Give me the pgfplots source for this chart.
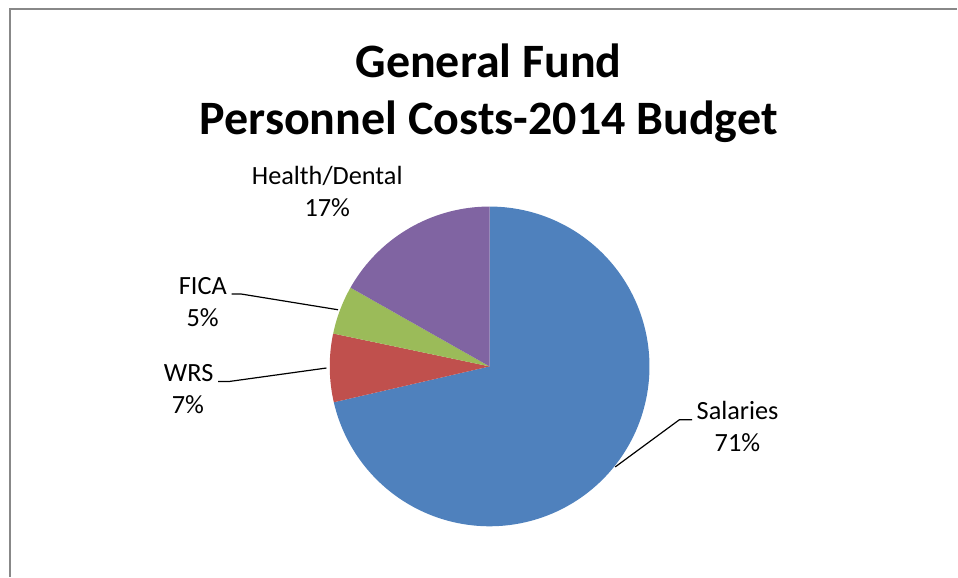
\documentclass[border=0pt]{standalone}
\usepackage{fontspec}
\setmainfont{Carlito}
\usepackage{pgfplots}
\usepackage{pgfplotstable}
\pgfplotsset{compat=1.18}
\definecolor{cSal}{HTML}{4F81BD}
\definecolor{cWRS}{HTML}{C0504D}
\definecolor{cFICA}{HTML}{9BBB59}
\definecolor{cHealth}{HTML}{8064A2}
\definecolor{frame}{HTML}{888888}
\pgfplotstableread{
label value
Salaries 71.4
WRS 6.9
FICA 4.9
Health 16.8
}\piedata
\pgfplotstablegetelem{0}{value}\of\piedata \let\vA\pgfplotsretval
\pgfplotstablegetelem{1}{value}\of\piedata \let\vB\pgfplotsretval
\pgfplotstablegetelem{2}{value}\of\piedata \let\vC\pgfplotsretval
\pgfplotstablegetelem{3}{value}\of\piedata \let\vD\pgfplotsretval
\pgfmathsetmacro{\aA}{90}
\pgfmathsetmacro{\aB}{\aA-3.6*\vA}
\pgfmathsetmacro{\aC}{\aB-3.6*\vB}
\pgfmathsetmacro{\aD}{\aC-3.6*\vC}
\pgfmathsetmacro{\aE}{\aD-3.6*\vD}
\newcommand\cx{490}
\newcommand\cy{366.7}
\newcommand\rr{160}
\newcommand\lbl{\fontsize{26.3}{31.6}\selectfont}
\begin{document}
\begin{tikzpicture}
\begin{axis}[
  scale only axis, width=958pt, height=577pt,
  xmin=0, xmax=958, ymin=0, ymax=577, y dir=reverse,
  hide axis, clip=false]
\addplot[draw=none, fill=cSal, domain=\aB:\aA, samples=150, variable=\t]
  ({\cx+\rr*cos(t)},{\cy-\rr*sin(t)}) -- (axis cs:\cx,\cy) -- cycle;
\addplot[draw=none, fill=cWRS, domain=\aC:\aB, samples=30, variable=\t]
  ({\cx+\rr*cos(t)},{\cy-\rr*sin(t)}) -- (axis cs:\cx,\cy) -- cycle;
\addplot[draw=none, fill=cFICA, domain=\aD:\aC, samples=30, variable=\t]
  ({\cx+\rr*cos(t)},{\cy-\rr*sin(t)}) -- (axis cs:\cx,\cy) -- cycle;
\addplot[draw=none, fill=cHealth, domain=\aE:\aD, samples=60, variable=\t]
  ({\cx+\rr*cos(t)},{\cy-\rr*sin(t)}) -- (axis cs:\cx,\cy) -- cycle;
% leader lines
\addplot[black, line width=1.2pt, mark=none] coordinates {(231.7,294.3) (241.7,294.3) (338.3,310)};
\addplot[black, line width=1.2pt, mark=none] coordinates {(218.3,381.7) (230,381.7) (326.7,368.3)};
\addplot[black, line width=1.2pt, mark=none] coordinates {(692.7,420) (680,420) (615.7,467.3)};
% labels
\node[anchor=base, inner sep=0pt] at (axis cs:327.5,185) {\lbl Health/Dental};
\node[anchor=base, inner sep=0pt] at (axis cs:327.5,216.7) {\lbl 17\%};
\node[anchor=base, inner sep=0pt] at (axis cs:203,294.3) {\lbl FICA};
\node[anchor=base, inner sep=0pt] at (axis cs:202.8,326.7) {\lbl 5\%};
\node[anchor=base, inner sep=0pt] at (axis cs:188.8,381.7) {\lbl WRS};
\node[anchor=base, inner sep=0pt] at (axis cs:188,414) {\lbl 7\%};
\node[anchor=base, inner sep=0pt] at (axis cs:738.2,420) {\lbl Salaries};
\node[anchor=base, inner sep=0pt] at (axis cs:738,451.7) {\lbl 71\%};
% title
\node[anchor=base, inner sep=0pt] at (axis cs:489,78) {\fontsize{48}{58}\selectfont\bfseries General Fund};
\node[anchor=base, inner sep=0pt] at (axis cs:489,135) {\fontsize{48}{58}\selectfont\bfseries Personnel Costs-2014 Budget};
% chart frame (left and top edges visible)
\draw[frame, line width=1.5pt] (axis cs:10,577) -- (axis cs:10,9) -- (axis cs:958,9);
\path (axis cs:0,0) (axis cs:958,577);
\end{axis}
\end{tikzpicture}
\end{document}
